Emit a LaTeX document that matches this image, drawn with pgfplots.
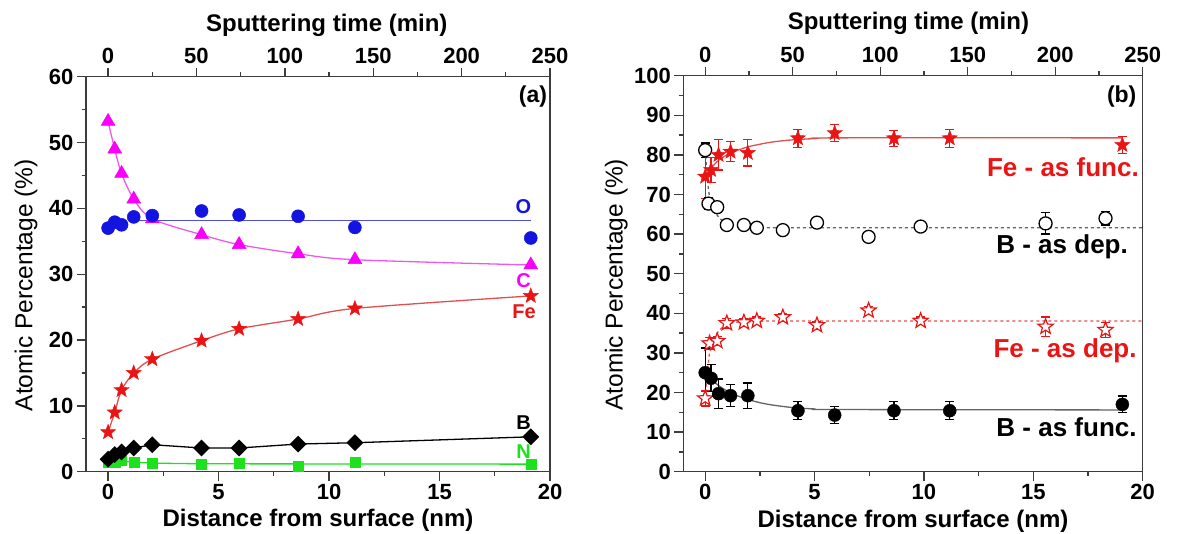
\documentclass[border=0pt]{standalone}
\usepackage{fontspec}
\setmainfont{Liberation Sans}
\usepackage{pgfplots}
\pgfplotsset{compat=1.18}

\definecolor{cblue}{RGB}{20,20,225}
\definecolor{cbluel}{RGB}{80,80,215}
\definecolor{cmag}{RGB}{250,0,250}
\definecolor{cmagl}{RGB}{235,90,235}
\definecolor{cred}{RGB}{235,20,20}
\definecolor{credl}{RGB}{225,80,80}
\definecolor{cgreen}{RGB}{30,225,30}
\definecolor{cgray}{RGB}{100,100,100}
\definecolor{axc}{RGB}{60,60,60}

\pgfdeclareplotmark{fstar}{%
  \pgfpathmoveto{\pgfqpoint{0pt}{\pgfplotmarksize}}%
  \pgfpathlineto{\pgfqpoint{-0.2469\pgfplotmarksize}{0.3398\pgfplotmarksize}}%
  \pgfpathlineto{\pgfqpoint{-0.9511\pgfplotmarksize}{0.3090\pgfplotmarksize}}%
  \pgfpathlineto{\pgfqpoint{-0.3995\pgfplotmarksize}{-0.1298\pgfplotmarksize}}%
  \pgfpathlineto{\pgfqpoint{-0.5878\pgfplotmarksize}{-0.8090\pgfplotmarksize}}%
  \pgfpathlineto{\pgfqpoint{0pt}{-0.42\pgfplotmarksize}}%
  \pgfpathlineto{\pgfqpoint{0.5878\pgfplotmarksize}{-0.8090\pgfplotmarksize}}%
  \pgfpathlineto{\pgfqpoint{0.3995\pgfplotmarksize}{-0.1298\pgfplotmarksize}}%
  \pgfpathlineto{\pgfqpoint{0.9511\pgfplotmarksize}{0.3090\pgfplotmarksize}}%
  \pgfpathlineto{\pgfqpoint{0.2469\pgfplotmarksize}{0.3398\pgfplotmarksize}}%
  \pgfpathclose
  \pgfusepathqfillstroke
}

\newcommand\tickfont{\bfseries\fontsize{22}{22}\selectfont}
\newcommand\labfont{\bfseries\fontsize{24}{24}\selectfont}
\newcommand\ylabfont{\fontsize{24.5}{24.5}\selectfont}
\newcommand\annfont{\bfseries\fontsize{20}{20}\selectfont}
\newcommand\bigfont{\bfseries\fontsize{26}{26}\selectfont}

\pgfplotsset{
  common/.style={
    scale only axis, anchor=south west,
    tick align=outside,
    major tick length=9pt, minor tick length=4.5pt,
    axis line style={line width=1.5pt, axc},
    every tick/.style={line width=1.3pt, axc},
    tick label style={font=\tickfont},
    /pgf/number format/assume math mode=true,
    clip=false,
  },
  ebar/.style={error bars/.cd, y dir=both, y explicit,
    error bar style={line width=1.3pt, #1},
    error mark options={rotate=90, line width=1.3pt, #1, mark size=4.5pt}},
}

\begin{document}
\begin{tikzpicture}

% ================= Panel (a) =================
\begin{axis}[common,
  at={(86pt,61.3pt)}, width=464pt, height=395pt,
  xmin=-1, xmax=20, ymin=0, ymax=60,
  xtick={0,5,...,20}, ytick={0,10,...,60},
  minor x tick num=1, minor y tick num=1,
  xtick pos=left, ytick pos=left,
  xlabel={Distance from surface (nm)},
  xlabel style={font=\labfont, at={(axis description cs:0.5,-0.124)}, anchor=center},
  ylabel={Atomic Percentage (\%)},
  ylabel style={font=\ylabfont, at={(axis description cs:-0.129,0.472)}, anchor=center},
]
% C
\addplot[cmagl, line width=1.3pt, smooth, tension=0.5] coordinates {
  (0,53.2) (0.3,49.0) (0.61,45.3) (1.16,41.4) (2.0,38.4) (4.23,36.0) (5.93,34.5) (8.6,33.1) (11.17,32.2) (19.13,31.4)};
\addplot[only marks, mark=triangle*, mark size=8pt, mark options={fill=cmag, draw=cmag, line width=0.5pt}] coordinates {
  (0,53.2) (0.3,49.0) (0.61,45.3) (1.16,41.4) (2.0,38.4) (4.23,36.0) (5.93,34.5) (8.6,33.1) (11.17,32.2) (19.13,31.4)};
% O
\addplot[cbluel, line width=1.3pt] coordinates {(1.2,38.15) (19.13,38.15)};
\addplot[only marks, mark=*, mark size=6.5pt, mark options={fill=cblue, draw=cblue, line width=0.5pt}] coordinates {
  (0,37.0) (0.3,37.9) (0.61,37.5) (1.16,38.7) (2.0,38.9) (4.23,39.6) (5.93,39.0) (8.6,38.8) (11.17,37.1) (19.13,35.5)};
% Fe
\addplot[credl, line width=1.3pt, smooth, tension=0.5] coordinates {
  (0,6.0) (0.3,9.0) (0.61,12.4) (1.16,15.0) (2.0,17.1) (4.23,19.9) (5.93,21.7) (8.6,23.2) (11.17,24.8) (19.13,26.7)};
\addplot[only marks, mark=fstar, mark size=8pt, mark options={fill=cred, draw=cred, line width=0.4pt}] coordinates {
  (0,6.0) (0.3,9.0) (0.61,12.4) (1.16,15.0) (2.0,17.1) (4.23,19.9) (5.93,21.7) (8.6,23.2) (11.17,24.8) (19.13,26.7)};
% N
\addplot[cgreen, line width=1.3pt] coordinates {
  (0,1.5) (0.3,1.5) (0.61,1.6) (1.16,1.45) (2.0,1.3) (4.23,1.2) (19.13,1.15)};
\addplot[only marks, mark=square*, mark size=5pt, mark options={fill=cgreen, draw=cgreen}] coordinates {
  (0,1.5) (0.3,1.4) (0.61,1.7) (1.16,1.5) (2.0,1.3) (4.23,1.15) (5.93,1.25) (8.6,0.9) (11.17,1.5) (19.13,1.15)};
% B
\addplot[black, line width=1.3pt, mark=square*, mark size=5.3pt, mark options={rotate=45, fill=black, draw=black}] coordinates {
  (0,1.9) (0.3,2.6) (0.61,3.0) (1.16,3.6) (2.0,4.1) (4.23,3.6) (5.93,3.6) (8.6,4.2) (11.17,4.4) (19.13,5.3)};

\node[font=\bfseries\fontsize{23}{23}\selectfont] at (axis cs:19.23,57.0) {(a)};
\node[font=\annfont, text=cblue] at (axis cs:18.8,40.3) {O};
\node[font=\annfont, text=cmag] at (axis cs:18.8,29.1) {C};
\node[font=\annfont, text=cred] at (axis cs:18.83,24.3) {Fe};
\node[font=\annfont, text=black] at (axis cs:18.8,7.45) {B};
\node[font=\annfont, text=cgreen] at (axis cs:18.8,3.0) {N};
\end{axis}

\begin{axis}[common,
  at={(86pt,61.3pt)}, width=464pt, height=395pt,
  xmin=-12.5, xmax=250, ymin=0, ymax=1,
  axis x line*=top, axis y line=none,
  xtick={0,50,...,250}, minor x tick num=1,
  xlabel={Sputtering time (min)},
  xlabel style={font=\labfont, at={(axis description cs:0.519,1.131)}, anchor=center},
]
\end{axis}

% ================= Panel (b) =================
\begin{axis}[common,
  at={(683.3pt,61.3pt)}, width=459.4pt, height=396pt,
  xmin=-1, xmax=20, ymin=0, ymax=100,
  xtick={0,5,...,20}, ytick={0,10,...,100},
  minor x tick num=1, minor y tick num=1,
  xtick pos=left, ytick pos=left,
  xlabel={Distance from surface (nm)},
  xlabel style={font=\labfont, at={(axis description cs:0.5,-0.124)}, anchor=center},
  ylabel={Atomic Percentage (\%)},
  ylabel style={font=\ylabfont, at={(axis description cs:-0.146,0.472)}, anchor=center},
]
% B as dep fit (gray dashed)
\addplot[cgray, line width=1.3pt, dashed, smooth, tension=0.4] coordinates {
  (0,81.2) (0.1,74) (0.2,69.5) (0.4,66) (0.7,63.8) (1,62.8) (1.5,62.0) (2.5,61.7) (4,61.6) (20,61.6)};
% Fe as dep fit (red dashed)
\addplot[credl, line width=1.3pt, dashed, smooth, tension=0.4] coordinates {
  (0,18.5) (0.1,25) (0.2,30) (0.4,33.8) (0.7,36) (1,37.2) (1.5,37.8) (2.5,38.0) (4,38.05) (20,38.05)};
% Fe as func fit
\addplot[credl, line width=1.3pt, smooth, tension=0.5] coordinates {
  (0,74.5) (0.3,76.8) (0.6,78.6) (1,80.0) (1.5,81.2) (2,82.1) (3,83.2) (4,83.8) (5,84.1) (6,84.3) (19.07,84.3)};
% B as func fit
\addplot[cgray, line width=1.3pt, smooth, tension=0.5] coordinates {
  (0,25.0) (0.3,23.3) (0.6,21.8) (1,20.4) (1.5,19.1) (2.3,17.7) (3,16.9) (4,16.2) (5,15.85) (6,15.7) (19.07,15.6)};

% B as dep (open circles)
\addplot[only marks, mark=*, mark size=6.5pt, mark options={fill=white, draw=black, line width=1.3pt}, ebar=black] coordinates {
  (0,81.2) +- (0,1.8)
  (0.15,67.7) +- (0,1.5)
  (0.55,66.8) +- (0,1.2)
  (0.99,62.3) +- (0,1.2)
  (1.77,62.3) +- (0,1.0)
  (2.36,61.6) +- (0,1.0)
  (3.55,61.0) +- (0,1.0)
  (5.11,62.9) +- (0,1.0)
  (7.47,59.3) +- (0,1.0)
  (9.85,61.9) +- (0,1.0)
  (15.56,62.7) +- (0,2.7)
  (18.3,64.0) +- (0,1.7)};
% Fe as func (filled stars)
\addplot[only marks, mark=fstar, mark size=8pt, mark options={fill=cred, draw=cred, line width=0.4pt}, ebar=cred] coordinates {
  (0,74.5) +- (0,5.5)
  (0.27,76.2) +- (0,3.2)
  (0.61,80.0) +- (0,3.8)
  (1.16,80.8) +- (0,2.5)
  (1.95,80.5) +- (0,3.3)
  (4.24,84.2) +- (0,2.3)
  (5.92,85.5) +- (0,2.1)
  (8.63,84.2) +- (0,2.0)
  (11.18,84.2) +- (0,2.3)
  (19.07,82.5) +- (0,2.1)};
% Fe as dep (open stars)
\addplot[only marks, mark=fstar, mark size=8pt, mark options={fill=white, draw=cred, line width=1.2pt}, ebar=cred] coordinates {
  (0,18.5) +- (0,1.9)
  (0.2,32.4) +- (0,1.5)
  (0.55,33.0) +- (0,1.2)
  (0.99,37.5) +- (0,1.2)
  (1.77,37.7) +- (0,1.0)
  (2.36,38.1) +- (0,1.0)
  (3.55,39.0) +- (0,1.0)
  (5.11,37.0) +- (0,1.0)
  (7.47,40.7) +- (0,1.0)
  (9.85,38.1) +- (0,1.0)
  (15.56,36.6) +- (0,2.5)
  (18.3,35.8) +- (0,1.9)};
% B as func (filled circles)
\addplot[only marks, mark=*, mark size=6.5pt, mark options={fill=black, draw=black}, ebar=black] coordinates {
  (0,25.0) +- (0,6.2)
  (0.27,23.6) +- (0,3.4)
  (0.61,19.7) +- (0,3.7)
  (1.16,19.2) +- (0,2.8)
  (1.95,19.2) +- (0,3.2)
  (4.24,15.4) +- (0,2.3)
  (5.92,14.3) +- (0,2.1)
  (8.63,15.4) +- (0,2.3)
  (11.18,15.4) +- (0,2.3)
  (19.07,17.0) +- (0,2.1)};

\node[font=\bfseries\fontsize{23}{23}\selectfont] at (axis cs:19.04,94.7) {(b)};
\node[font=\bigfont, text=cred, anchor=base east, inner sep=0pt] at (axis cs:19.83,74.5) {Fe - as func.};
\node[font=\bigfont, text=black, anchor=base east, inner sep=0pt] at (axis cs:19.33,55.15) {B - as dep.};
\node[font=\bigfont, text=cred, anchor=base east, inner sep=0pt] at (axis cs:19.73,28.9) {Fe - as dep.};
\node[font=\bigfont, text=black, anchor=base east, inner sep=0pt] at (axis cs:19.73,8.84) {B - as func.};
\end{axis}

\begin{axis}[common,
  at={(683.3pt,61.3pt)}, width=459.4pt, height=396pt,
  xmin=-12.5, xmax=250, ymin=0, ymax=1,
  axis x line*=top, axis y line=none,
  xtick={0,50,...,250}, minor x tick num=1,
  xlabel={Sputtering time (min)},
  xlabel style={font=\labfont, at={(axis description cs:0.49,1.131)}, anchor=center},
]
\end{axis}

\pgfresetboundingbox
\path[use as bounding box] (0pt,0pt) rectangle (1204pt,533pt);
\end{tikzpicture}
\end{document}
